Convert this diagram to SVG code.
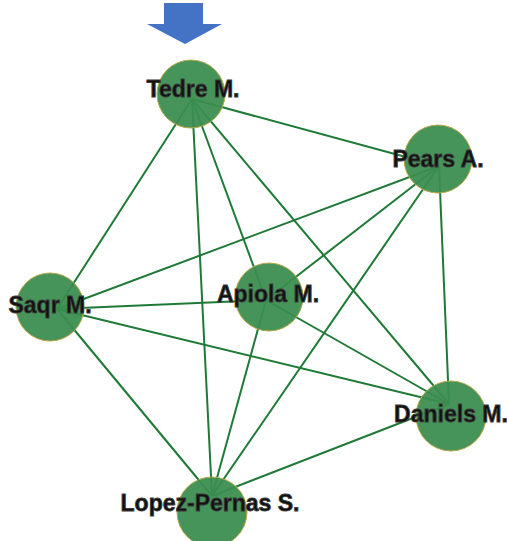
<svg xmlns="http://www.w3.org/2000/svg" width="507" height="541" viewBox="0 0 507 541">
  <style>
    .edge { stroke: #1f7a37; stroke-width: 2; fill: none; }
    .node circle { fill: #3a8d4f; fill-opacity: 0.94; stroke: #b9a84a; stroke-width: 1; }
    .node text { font-family: "Liberation Sans", Arial, sans-serif; font-weight: bold; font-size: 23px; fill: #111; text-anchor: middle; stroke: #3a3a3a; stroke-width: 0.8; }
  </style>
  <rect width="507" height="541" fill="#ffffff"/>

  <!-- start marker -->
  <polygon id="arrow" points="164,3 203,3 203,24 222,24 185,44 147,24 164,24" fill="#4472c4"/>

  <!-- connectors: every author linked to every other -->
  <g id="edges">
    <line class="edge" x1="192" y1="99" x2="439" y2="166"/>
    <line class="edge" x1="192" y1="99" x2="57" y2="309"/>
    <line class="edge" x1="192" y1="99" x2="266" y2="300"/>
    <line class="edge" x1="192" y1="99" x2="449" y2="404"/>
    <line class="edge" x1="192" y1="99" x2="212" y2="496"/>
    <line class="edge" x1="439" y1="166" x2="57" y2="309"/>
    <line class="edge" x1="439" y1="166" x2="266" y2="300"/>
    <line class="edge" x1="439" y1="166" x2="449" y2="404"/>
    <line class="edge" x1="439" y1="166" x2="212" y2="496"/>
    <line class="edge" x1="57" y1="309" x2="266" y2="300"/>
    <line class="edge" x1="57" y1="309" x2="449" y2="404"/>
    <line class="edge" x1="57" y1="309" x2="212" y2="496"/>
    <line class="edge" x1="266" y1="300" x2="449" y2="404"/>
    <line class="edge" x1="266" y1="300" x2="212" y2="496"/>
    <line class="edge" x1="449" y1="404" x2="212" y2="496"/>
  </g>

  <g id="tedre" class="node">
    <circle cx="191" cy="94" r="34"/>
    <text x="193" y="97">Tedre M.</text>
  </g>
  <g id="pears" class="node">
    <circle cx="438" cy="159" r="34"/>
    <text x="438" y="167">Pears A.</text>
  </g>
  <g id="saqr" class="node">
    <circle cx="50" cy="307" r="34"/>
    <text x="50" y="313">Saqr M.</text>
  </g>
  <g id="apiola" class="node">
    <circle cx="269" cy="297" r="34"/>
    <text x="268" y="302">Apiola M.</text>
  </g>
  <g id="daniels" class="node">
    <circle cx="451" cy="416" r="35"/>
    <text x="451" y="422">Daniels M.</text>
  </g>
  <g id="lopez" class="node">
    <circle cx="212" cy="512" r="35"/>
    <text x="210" y="511">Lopez-Pernas S.</text>
  </g>
</svg>
